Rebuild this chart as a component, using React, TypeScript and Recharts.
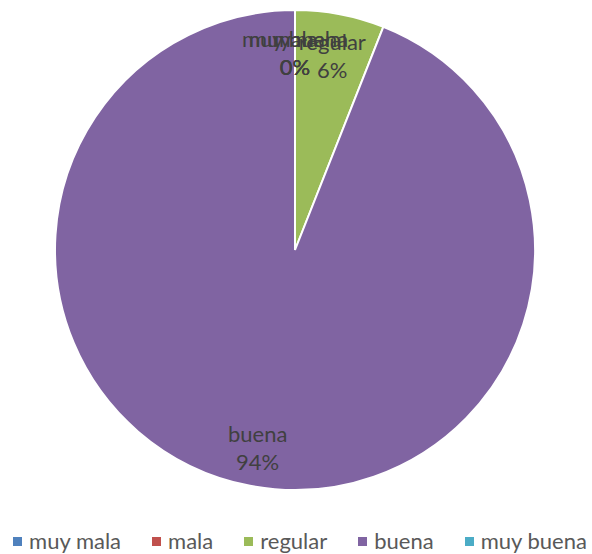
import React from 'react';
import { PieChart, Pie, Cell, Legend } from 'recharts';

const categories = ['muy mala', 'mala', 'regular', 'buena', 'muy buena'];
const values = [0, 0, 6, 94, 0];
const colors = ['#4F81BD', '#C0504D', '#9BBB59', '#8064A2', '#4BACC6'];

const data = categories.map((name, i) => ({ name, value: values[i] }));

const FONT = 'Lato, "Open Sans", sans-serif';
const RAD = Math.PI / 180;

const renderLabel = (props: any) => {
  const { cx, cy, midAngle, outerRadius, name, percent } = props;
  const r = outerRadius * 0.83;
  const x = cx + r * Math.cos(-midAngle * RAD);
  const y = cy + r * Math.sin(-midAngle * RAD);
  const pct = Math.round((percent || 0) * 100) + '%';
  return (
    <text x={x} y={y} textAnchor="middle" fill="#404040" fontFamily={FONT} fontSize={22}>
      <tspan x={x} dy={-4}>{name}</tspan>
      <tspan x={x} dy={28}>{pct}</tspan>
    </text>
  );
};

const renderLegend = () => (
  <div style={{ display: 'flex', justifyContent: 'center', gap: 31, fontFamily: FONT, fontSize: 22, color: '#595959', lineHeight: '24px', paddingLeft: 8 }}>
    {categories.map((c, i) => (
      <div key={c} style={{ display: 'flex', alignItems: 'center' }}>
        <span style={{ display: 'inline-block', width: 9, height: 9, background: colors[i], marginRight: 7 }} />
        <span>{c}</span>
      </div>
    ))}
  </div>
);

export default function App() {
  return (
    <div style={{ position: 'absolute', left: 0, top: 0, width: 592, height: 554, background: '#fff' }}>
      <PieChart width={592} height={554} margin={{ top: 0, right: 0, bottom: 0, left: 0 }}>
        <Pie
          data={data}
          dataKey="value"
          nameKey="name"
          cx={295}
          cy={250}
          outerRadius={240}
          startAngle={90}
          endAngle={-270}
          stroke="#ffffff"
          strokeWidth={2}
          label={renderLabel}
          labelLine={false}
          isAnimationActive={false}
        >
          {data.map((d, i) => (
            <Cell key={d.name} fill={colors[i]} />
          ))}
        </Pie>
        <Legend
          content={renderLegend}
          wrapperStyle={{ position: 'absolute', left: 0, top: 529, width: 592, height: 24 }}
        />
      </PieChart>
    </div>
  );
}
